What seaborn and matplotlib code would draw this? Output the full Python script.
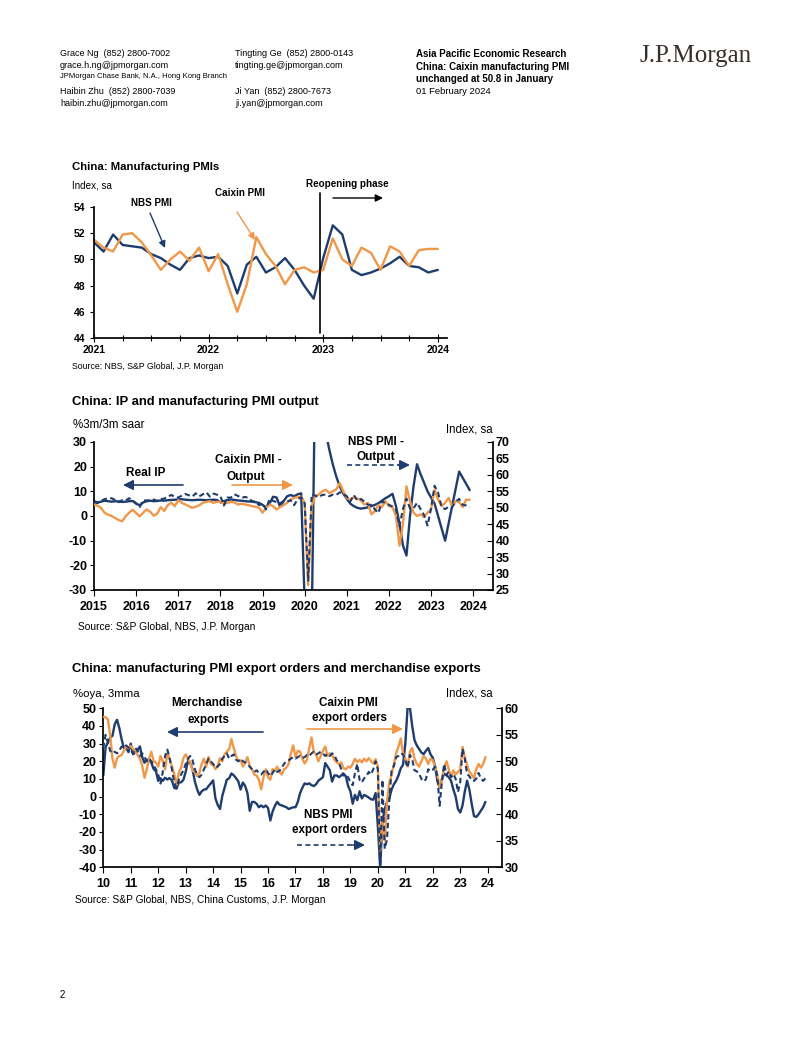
import numpy as np
import pandas as pd
import matplotlib
matplotlib.use("Agg")
import matplotlib.pyplot as plt
import seaborn as sns
from matplotlib import font_manager as fm
from matplotlib.patches import FancyArrowPatch
from matplotlib.lines import Line2D

# ---------------- DATA ----------------
# Chart 1: monthly Jan 2021 - Jan 2024
pmi_start = 2021
nbs_pmi = [51.3, 50.6, 51.9, 51.1, 51.0, 50.9, 50.4, 50.1, 49.6, 49.2, 50.1, 50.3,
           50.1, 50.2, 49.5, 47.4, 49.6, 50.2, 49.0, 49.4, 50.1, 49.2, 48.0, 47.0,
           50.1, 52.6, 51.9, 49.2, 48.8, 49.0, 49.3, 49.7, 50.2, 49.5, 49.4, 49.0,
           49.2]
caixin_pmi = [51.5, 50.9, 50.6, 51.9, 52.0, 51.3, 50.3, 49.2, 50.0, 50.6, 49.9, 50.9,
              49.1, 50.4, 48.1, 46.0, 48.1, 51.7, 50.4, 49.5, 48.1, 49.2, 49.4, 49.0,
              49.2, 51.6, 50.0, 49.5, 50.9, 50.5, 49.2, 51.0, 50.6, 49.5, 50.7, 50.8,
              50.8]
pmi_years = ["2021", "2022", "2023", "2024"]

# Chart 2: monthly Jan 2015 - Dec 2023
ip_start = 2015
real_ip = [6.0, 5.5, 5.8, 6.2, 6.0, 5.8, 6.0, 5.9, 5.7, 5.8, 6.0, 6.1,
           5.0, 4.3, 5.5, 6.0, 6.2, 6.0, 6.1, 6.3, 6.2, 6.4, 6.5, 6.6,
           6.7, 6.8, 6.6, 6.5, 6.4, 6.5, 6.6, 6.5, 6.4, 6.5, 6.6, 6.5,
           5.5, 6.0, 6.5, 6.7, 6.5, 6.3, 6.2, 6.0, 5.9, 5.8, 5.6, 5.3,
           4.5, 3.5, 5.0, 7.8, 7.5, 3.8, 6.0, 8.0, 8.5, 8.0, 8.8, 9.2,
           -35.0, -80.0, -45.0, 60.0, 75.0, 50.0, 34.0, 27.0, 21.0, 16.0, 12.0, 9.0,
           7.0, 5.0, 4.0, 3.3, 3.0, 3.2, 3.5, 4.0, 4.5, 5.2, 6.2, 7.2,
           8.0, 9.0, 4.0, -3.0, -12.0, -16.0, 0.0, 12.0, 21.0, 17.0, 13.5, 10.0,
           7.5, 5.0, 0.0, -5.0, -10.0, -3.0, 4.0, 11.0, 18.0, 15.5, 13.0, 10.5]
caixin_output = [51.0, 50.6, 50.0, 48.5, 47.9, 47.5, 46.9, 46.3, 45.9, 47.4, 48.5, 49.4,
                 48.4, 47.4, 48.5, 49.5, 48.8, 47.6, 48.2, 50.2, 49.0, 50.8, 51.5, 50.5,
                 52.3, 51.5, 51.0, 50.5, 50.0, 50.3, 50.8, 51.5, 51.8, 52.0, 51.5, 51.8,
                 51.8, 51.2, 51.5, 51.8, 51.6, 51.0, 51.2, 51.0, 50.8, 50.5, 50.3, 50.0,
                 48.5, 50.0, 51.0, 50.5, 49.5, 50.2, 50.8, 51.5, 52.5, 53.0, 53.2, 53.4,
                 51.5, 26.5, 50.5, 53.6, 54.0, 55.0, 55.5, 54.5, 55.0, 55.6, 57.5, 55.0,
                 53.0, 52.5, 53.2, 52.8, 52.2, 51.0, 51.5, 48.0, 49.0, 50.8, 50.2, 52.0,
                 50.5, 50.2, 47.5, 38.5, 45.0, 56.5, 52.0, 48.5, 47.5, 48.0, 47.2, 48.5,
                 49.5, 55.5, 52.5, 50.5, 51.5, 53.0, 50.5, 52.0, 51.8, 50.2, 52.5, 52.4]
nbs_output = [51.7, 51.4, 52.1, 52.6, 52.9, 52.9, 52.4, 51.7, 52.3, 52.2, 52.9, 52.2,
              51.4, 50.2, 52.3, 52.2, 52.3, 52.5, 52.1, 52.6, 52.8, 53.3, 53.9, 53.3,
              53.1, 53.7, 54.2, 53.8, 53.4, 54.4, 53.5, 54.1, 54.7, 53.4, 54.3, 54.0,
              53.5, 50.7, 53.1, 53.1, 54.1, 53.6, 53.0, 53.3, 53.0, 52.0, 51.9, 50.8,
              51.3, 49.5, 52.7, 52.1, 51.7, 51.3, 52.1, 51.9, 52.3, 50.8, 52.6, 53.2,
              51.3, 27.8, 54.1, 53.7, 53.2, 53.9, 54.0, 53.5, 54.0, 53.9, 54.7, 54.2,
              53.5, 51.9, 53.9, 52.2, 52.7, 51.9, 50.9, 50.9, 49.5, 48.4, 52.0, 51.4,
              50.9, 50.4, 49.5, 44.4, 49.7, 52.8, 49.8, 49.8, 51.5, 49.6, 47.8, 44.6,
              49.8, 56.7, 54.6, 50.2, 49.6, 50.3, 50.2, 51.9, 52.7, 50.9, 50.7, 50.2]
ip_years = [str(y) for y in range(2015, 2025)]

# Chart 3: monthly Jan 2010 - Dec 2023
exp_start = 2010
merch_exports = [12, 28, 30.6, 33.5, 34.4, 41, 43.5, 38.8, 32.5, 27.5, 27.6, 25.2,
                 30, 24, 25, 26.5, 28.4, 22.4, 19.2, 20.9, 20.7, 19.2, 15.6, 14.4,
                 8.9, 10.4, 8.9, 10.7, 9.7, 10.5, 9.2, 5.0, 4.5, 8.0, 8.1, 9.5,
                 14, 20.3, 19, 15.5, 8.6, 4.2, 1, 3, 4, 4.2, 6, 7.5,
                 9.2, -1, -4.7, -7, 0.4, 5, 9.6, 10.4, 13.1, 12.1, 10.5, 8.7,
                 4, 8, 6, 2, -8, -3, -3, -4, -6, -5, -6, -5,
                 -6.5, -13.5, -8.4, -5.2, -3, -4.5, -5, -5.5, -6, -7, -6.5, -6,
                 -6, -3, 2, 5, 7.5, 7.0, 7.5, 6.5, 6.0, 7.0, 9.0, 10.0,
                 11, 19, 17, 15, 8.5, 12, 12, 11, 12, 13, 11.5, 6,
                 3, -4, 1, -2, 3, -1, 1, 0.3, -0.5, -1.5, -1.7, 2,
                 -17, -40, -14, -7, -3, -1, 4, 7, 9, 12, 16, 18,
                 30, 50.5, 50.5, 40, 32, 29, 27, 25, 24, 26, 27.5, 24,
                 22, 17, 9, 5, 10, 13, 12, 11, 9, 4, 0, -7,
                 -9, -5, 3, 9, 4, -4, -11, -11.5, -10, -8, -6, -3]
caixin_export_orders = [58.4, 58.3, 57.9, 55.0, 50.5, 48.8, 50.6, 51.0, 51.2, 52.0, 52.8, 52.5,
                        52.9, 52.3, 51.8, 51.2, 50.5, 49.2, 46.9, 48.5, 50.5, 51.8, 50.0, 49.8,
                        49.0, 51.0, 50.0, 48.5, 51.5, 50.5, 49.0, 47.6, 45.5, 47.8, 48.8, 50.6,
                        51.3, 50.5, 49.8, 48.2, 48.0, 47.2, 47.8, 49.5, 50.5, 49.0, 50.8, 49.5,
                        49.3, 48.5, 49.2, 50.6, 50.0, 51.3, 51.8, 52.3, 54.2, 52.5, 51.0, 50.0,
                        50.2, 49.0, 49.8, 50.8, 49.0, 48.5, 47.5, 47.3, 46.5, 44.7, 47.0, 48.5,
                        47.0, 46.5, 48.5, 48.2, 49.0, 48.0, 47.5, 48.5, 48.8, 49.5, 51.5, 53.0,
                        50.8, 52.0, 51.8, 50.5, 49.6, 50.3, 52.5, 54.5, 51.8, 51.3, 50.0, 51.0,
                        52.0, 52.8, 51.0, 51.5, 51.2, 50.3, 49.8, 49.5, 49.8, 48.7, 48.5, 49.0,
                        48.8, 49.5, 50.5, 49.8, 50.3, 49.8, 50.5, 50.0, 50.6, 50.0, 49.6, 50.4,
                        49.0, 33.0, 38.5, 35.0, 42.5, 46.0, 47.5, 49.5, 51.5, 52.8, 54.3, 51.5,
                        50.5, 49.0, 51.8, 52.5, 50.5, 49.5, 49.0, 50.0, 51.0, 50.5, 49.5, 50.5,
                        50.2, 49.0, 47.5, 45.0, 46.5, 49.0, 50.0, 48.5, 47.0, 48.3, 47.5, 48.0,
                        48.5, 52.7, 50.8, 49.3, 48.0, 47.5, 46.8, 48.5, 49.5, 48.8, 49.5, 50.8]
nbs_export_orders = [52.5, 55.0, 53.5, 52.0, 51.5, 51.8, 51.5, 52.0, 52.8, 52.5, 53.0, 52.6,
                     52.0, 51.5, 52.5, 52.0, 51.0, 51.5, 50.8, 50.0, 50.5, 50.0, 49.3, 48.5,
                     47.5, 45.8, 48.0, 51.0, 52.2, 50.5, 48.5, 46.0, 45.0, 46.5, 47.5, 48.3,
                     49.5, 50.5, 51.0, 50.2, 48.5, 47.5, 47.0, 47.5, 48.5, 49.5, 50.5, 50.0,
                     49.5, 48.8, 49.0, 49.5, 50.5, 51.0, 51.5, 50.5, 51.0, 51.3, 50.3, 50.0,
                     50.5, 50.0, 49.8, 49.5, 49.0, 48.5, 48.0, 48.3, 47.8, 47.5, 48.0, 48.5,
                     47.8, 47.2, 47.8, 48.5, 48.0, 48.2, 48.8, 49.5, 50.0, 50.2, 50.5, 50.8,
                     50.5, 50.8, 51.0, 50.6, 50.8, 51.2, 51.0, 51.5, 51.8, 51.3, 51.5, 51.8,
                     51.5, 51.0, 51.4, 51.0, 51.5, 51.2, 50.2, 49.7, 48.5, 47.3, 47.6, 47.0,
                     46.0, 45.5, 47.8, 49.5, 46.5, 46.0, 46.8, 47.2, 48.0, 47.5, 48.5, 50.0,
                     48.5, 29.0, 46.5, 33.5, 35.3, 42.6, 48.4, 49.1, 50.8, 51.0, 51.5, 51.3,
                     50.2, 48.8, 51.2, 50.4, 48.3, 48.1, 47.7, 46.7, 46.2, 46.6, 48.5, 48.1,
                     48.4, 49.0, 47.2, 41.6, 46.2, 49.5, 47.4, 48.1, 47.0, 47.6, 46.7, 44.2,
                     46.1, 52.4, 50.4, 47.6, 47.2, 46.4, 46.3, 46.7, 47.8, 46.8, 46.3, 46.8]
exp_years = ["10", "11", "12", "13", "14", "15", "16", "17", "18", "19", "20", "21", "22", "23", "24"]

# ---------------- STYLE ----------------
sns.set_theme(style="white")
try:
    fm.findfont("Liberation Sans Narrow", fallback_to_default=False)
    NARROW = True
except Exception:
    NARROW = False
MAIN = "Liberation Sans Narrow" if NARROW else "Liberation Sans"
plt.rcParams["font.family"] = [MAIN, "DejaVu Sans"]
plt.rcParams["axes.edgecolor"] = "black"
plt.rcParams["xtick.color"] = "black"
plt.rcParams["ytick.color"] = "black"
K = 1.2 if NARROW else 1.0

NAVY = "#1F3C6E"
ORANGE = "#F0984A"
W, H = 802, 1037

fig = plt.figure(figsize=(W / 100, H / 100), dpi=100)
fig.patch.set_facecolor("white")


def fx(px):
    return px / W


def fy(py):
    return 1 - py / H


def T(px, py, s, size, weight="normal", ha="left", va="center", color="black", family=None):
    kw = {}
    if family:
        kw["family"] = family
    fig.text(fx(px), fy(py), s, fontsize=size * K if family is None else size,
             fontweight=weight, ha=ha, va=va, color=color, **kw)


def arrow(p0, p1, color, ms=12, lw=1.2, dashed=False):
    a = (fx(p0[0]), fy(p0[1]))
    b = (fx(p1[0]), fy(p1[1]))
    if dashed:
        # dashed shaft + solid head
        frac = 0.82
        m = (a[0] + (b[0] - a[0]) * frac, a[1] + (b[1] - a[1]) * frac)
        fig.add_artist(Line2D([a[0], m[0]], [a[1], m[1]], transform=fig.transFigure,
                              color=color, lw=lw, linestyle=(0, (3, 2))))
        a = m
    fig.add_artist(FancyArrowPatch(a, b, transform=fig.transFigure, arrowstyle="-|>",
                                   mutation_scale=ms, lw=lw, color=color,
                                   shrinkA=0, shrinkB=0))


def months(start, n):
    return start + np.arange(n) / 12.0


def style_ticks(ax, size):
    ax.tick_params(axis="both", which="both", labelsize=size * K)


# ---------------- HEADER ----------------
T(60, 54, "Grace Ng  (852) 2800-7002", 6.5)
T(60, 66, "grace.h.ng@jpmorgan.com", 6.5)
T(60, 77, "JPMorgan Chase Bank, N.A., Hong Kong Branch", 5.5)
T(60, 91, "Haibin Zhu  (852) 2800-7039", 6.5)
T(60, 103, "haibin.zhu@jpmorgan.com", 6.5)
T(235, 54, "Tingting Ge  (852) 2800-0143", 6.5)
T(235, 66, "tingting.ge@jpmorgan.com", 6.5)
T(235, 91, "Ji Yan  (852) 2800-7673", 6.5)
T(235, 103, "ji.yan@jpmorgan.com", 6.5)
T(416, 54, "Asia Pacific Economic Research", 7.0, weight="bold")
T(416, 67, "China: Caixin manufacturing PMI", 7.0, weight="bold")
T(416, 79, "unchanged at 50.8 in January", 7.0, weight="bold")
T(416, 92, "01 February 2024", 6.8)
T(640, 56, "J.P.Morgan", 18, family=["Liberation Serif", "DejaVu Serif"], color="#3B2E28")
T(60, 995, "2", 7.0)

# ---------------- CHART 1 ----------------
ax1 = fig.add_axes([fx(94), fy(338), 353 / W, 131 / H])
df1 = pd.DataFrame({"t": months(pmi_start, len(nbs_pmi)), "nbs": nbs_pmi, "cx": caixin_pmi})
sns.lineplot(data=df1, x="t", y="nbs", ax=ax1, color=NAVY, lw=1.7)
sns.lineplot(data=df1, x="t", y="cx", ax=ax1, color=ORANGE, lw=1.7)
ax1.set_xlim(2021, 2024.08)
ax1.set_ylim(44, 54)
ax1.set_xlabel("")
ax1.set_ylabel("")
for s in ["top", "right"]:
    ax1.spines[s].set_visible(False)
ax1.set_xticks([2021, 2022, 2023, 2024], pmi_years, fontweight="bold", fontsize=7.5 * K)
ax1.set_xticks(np.arange(2021, 2024.1, 0.25), minor=True)
ax1.set_yticks(np.arange(44, 55, 2), [str(v) for v in range(44, 55, 2)],
               fontweight="bold", fontsize=7.5 * K)
ax1.tick_params(axis="x", which="major", direction="inout", length=6, width=0.8, pad=2)
ax1.tick_params(axis="x", which="minor", direction="inout", length=4, width=0.8)
ax1.tick_params(axis="y", direction="out", length=3, width=0.8, pad=3, left=True)
ax1.tick_params(axis="x", bottom=True, which="both")
ax1.axvline(2022.97, ymin=(338 - 333) / 131, ymax=(338 - 193) / 131, clip_on=False,
            color="black", lw=1.2)

T(72, 167, "China: Manufacturing PMIs", 8.2, weight="bold")
T(72, 185, "Index, sa", 7.1)
T(131, 203, "NBS PMI", 7.1, weight="bold")
T(215, 193, "Caixin PMI", 7.1, weight="bold")
T(306, 184, "Reopening phase", 7.1, weight="bold")
arrow((150, 213), (165, 248), NAVY, ms=10, lw=1.0)
arrow((237, 212), (255, 240), ORANGE, ms=10, lw=1.0)
arrow((333, 198), (383, 198), "black", ms=11, lw=1.0)
T(72, 366, "Source: NBS, S&P Global, J.P. Morgan", 6.3)

# ---------------- CHART 2 ----------------
ax2 = fig.add_axes([fx(94), fy(590), 399 / W, 148 / H])
ax2r = ax2.twinx()
df2 = pd.DataFrame({"t": months(ip_start, len(real_ip)), "ip": real_ip,
                    "cx": caixin_output, "nbs": nbs_output})
sns.lineplot(data=df2, x="t", y="ip", ax=ax2, color=NAVY, lw=1.7)
sns.lineplot(data=df2, x="t", y="cx", ax=ax2r, color=ORANGE, lw=1.7)
sns.lineplot(data=df2, x="t", y="nbs", ax=ax2r, color=NAVY, lw=1.5, linestyle=(0, (2.6, 1.6)))
ax2.set_xlim(2015, 2024.47)
ax2.set_ylim(-30, 30)
ax2r.set_ylim(25, 70)
for a in (ax2, ax2r):
    a.set_xlabel("")
    a.set_ylabel("")
    a.spines["top"].set_visible(False)
ax2r.spines["left"].set_visible(False)
ax2r.spines["bottom"].set_visible(False)
ax2.spines["right"].set_visible(False)
ax2.set_xticks(np.arange(2015, 2025), ip_years, fontweight="bold", fontsize=9 * K)
ax2.set_yticks(np.arange(-30, 31, 10), [str(v) for v in range(-30, 31, 10)],
               fontweight="bold", fontsize=9 * K)
ax2r.set_yticks(np.arange(25, 71, 5), [str(v) for v in range(25, 71, 5)],
                fontweight="bold", fontsize=9 * K)
ax2.tick_params(axis="x", direction="out", length=4, width=0.8, pad=4, bottom=True)
ax2.tick_params(axis="y", direction="out", length=3, width=0.8, pad=2, left=True)
ax2r.tick_params(axis="y", direction="in", length=4, width=0.8, pad=2, right=True)

T(72, 402, "China: IP and manufacturing PMI output", 9.4, weight="bold")
T(73, 425, "%3m/3m saar", 8.4)
T(493, 430, "Index, sa", 8.3, ha="right")
T(146, 473, "Real IP", 8.5, weight="bold", ha="center")
T(248, 460, "Caixin PMI -", 8.5, weight="bold", ha="center")
T(246, 477, "Output", 8.5, weight="bold", ha="center")
T(376, 442, "NBS PMI -", 8.5, weight="bold", ha="center")
T(376, 457, "Output", 8.5, weight="bold", ha="center")
arrow((183, 485), (123, 485), NAVY, ms=15, lw=1.2)
arrow((232, 485), (293, 485), ORANGE, ms=15, lw=1.2)
arrow((347, 465), (410, 465), NAVY, ms=15, lw=1.2, dashed=True)
T(78, 627, "Source: S&P Global, NBS, J.P. Morgan", 7.35)

# ---------------- CHART 3 ----------------
ax3 = fig.add_axes([fx(103.3), fy(867.3), 398.4 / W, 159 / H])
ax3r = ax3.twinx()
df3 = pd.DataFrame({"t": months(exp_start, len(merch_exports)), "ex": merch_exports,
                    "cx": caixin_export_orders, "nbs": nbs_export_orders})
sns.lineplot(data=df3, x="t", y="ex", ax=ax3, color=NAVY, lw=1.7)
sns.lineplot(data=df3, x="t", y="cx", ax=ax3r, color=ORANGE, lw=1.7)
sns.lineplot(data=df3, x="t", y="nbs", ax=ax3r, color=NAVY, lw=1.5, linestyle=(0, (2.6, 1.6)))
ax3.set_xlim(2010, 2024.51)
ax3.set_ylim(-40, 50)
ax3r.set_ylim(30, 60)
for a in (ax3, ax3r):
    a.set_xlabel("")
    a.set_ylabel("")
    a.spines["top"].set_visible(False)
ax3r.spines["left"].set_visible(False)
ax3r.spines["bottom"].set_visible(False)
ax3.spines["right"].set_visible(False)
ax3.set_xticks(np.arange(2010, 2025), exp_years, fontweight="bold", fontsize=9 * K)
ax3.set_yticks(np.arange(-40, 51, 10), [str(v) for v in range(-40, 51, 10)],
               fontweight="bold", fontsize=9 * K)
ax3r.set_yticks(np.arange(30, 61, 5), [str(v) for v in range(30, 61, 5)],
                fontweight="bold", fontsize=9 * K)
ax3.tick_params(axis="x", direction="out", length=4, width=0.8, pad=4, bottom=True)
ax3.tick_params(axis="y", direction="out", length=3, width=0.8, pad=2, left=True)
ax3r.tick_params(axis="y", direction="in", length=4, width=0.8, pad=2, right=True)

T(72, 669, "China: manufacturing PMI export orders and merchandise exports", 9.4, weight="bold")
T(73, 694, "%oya, 3mma", 8.2)
T(493, 694, "Index, sa", 8.3, ha="right")
T(207, 703, "Merchandise", 8.4, weight="bold", ha="center")
T(208, 720, "exports", 8.4, weight="bold", ha="center")
T(348, 703, "Caixin PMI", 8.4, weight="bold", ha="center")
T(349, 718, "export orders", 8.4, weight="bold", ha="center")
T(328, 815, "NBS PMI", 8.4, weight="bold", ha="center")
T(329, 830, "export orders", 8.4, weight="bold", ha="center")
arrow((263, 732), (167, 732), NAVY, ms=15, lw=1.2)
arrow((307, 729), (403, 729), ORANGE, ms=15, lw=1.2)
arrow((297, 845), (365, 845), NAVY, ms=15, lw=1.2, dashed=True)
T(75, 900, "Source: S&P Global, NBS, China Customs, J.P. Morgan", 7.3)

fig.savefig("out.png", dpi=100, facecolor="white")
